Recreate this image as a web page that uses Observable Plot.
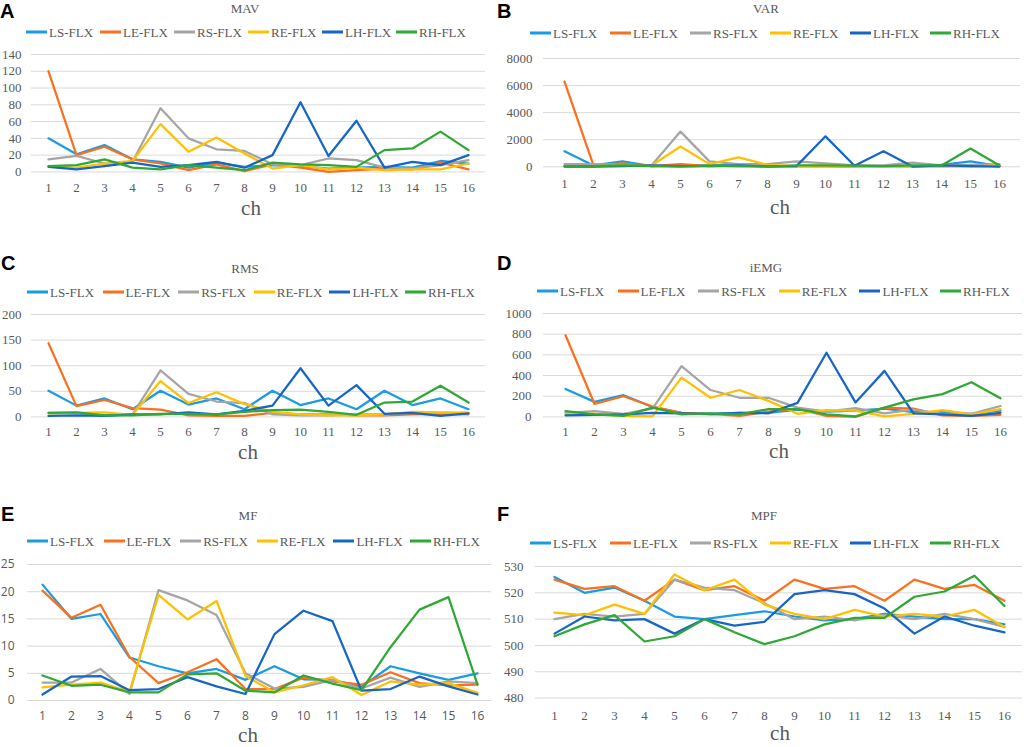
<!DOCTYPE html>
<html><head><meta charset="utf-8">
<script src="https://cdn.jsdelivr.net/npm/d3@7"></script>
<script src="https://cdn.jsdelivr.net/npm/@observablehq/plot@0.6"></script>
<style>
html,body{margin:0;padding:0;background:#fff;}
#root{position:relative;width:1024px;height:747px;overflow:hidden;background:#fff;}
.abs{position:absolute;white-space:nowrap;}
.letter{font-family:"Liberation Sans",Arial,sans-serif;font-weight:bold;font-size:20px;line-height:20px;color:#000;}
.title{font-family:"Liberation Serif","Times New Roman",serif;font-size:13px;color:#595959;transform:translate(-50%,-50%);line-height:1;}
.leg{font-family:"Liberation Serif","Times New Roman",serif;font-size:13px;color:#595959;line-height:1;transform:translateY(-50%);display:flex;align-items:center;}
.leg .sw{display:inline-block;width:21px;height:3px;margin-right:2px;}
.ch{font-family:"Liberation Serif","Times New Roman",serif;font-size:21px;color:#595959;transform:translate(-50%,-50%);line-height:0.72;padding-top:1px;}
</style></head><body><div id="root"></div>
<script>
// ---------- data ----------
const channels = [1,2,3,4,5,6,7,8,9,10,11,12,13,14,15,16];
const seriesNames = ["LS-FLX","LE-FLX","RS-FLX","RE-FLX","LH-FLX","RH-FLX"];
const seriesColors = ["#1b9be0","#f9711f","#a5a5a5","#ffc000","#1766c4","#2fa836"];

// each array: rows in order LS, LE, RS, RE, LH, RH
const MAV = [
  [40,21,32,15,12,5,11,6,8,7,4,5,6,5,13,10],
  [120,20,30,15,10,2,9,1,9,5,0,2,4,3,11,3],
  [15,19,10,12,76,40,27,25,9,8,16,14,5,4,8,14],
  [7,5,10,13,57,24,41,22,4,8,3,5,2,3,3,10],
  [6,3,7,11,6,8,12,5,20,83,19,61,5,12,8,20],
  [7,8,15,5,3,8,5,2,11,9,8,6,26,28,48,26]
];
const VAR = [
  [1150,100,400,50,100,100,100,50,50,50,50,50,50,150,400,50],
  [6300,100,250,50,200,50,50,50,50,50,20,50,50,50,100,50],
  [200,200,150,100,2600,400,200,200,400,250,100,100,300,100,150,200],
  [50,50,100,100,1500,200,700,150,50,100,20,20,20,20,20,100],
  [20,20,50,100,50,50,100,30,50,2250,80,1150,20,100,50,20],
  [50,50,100,50,20,80,50,20,100,100,80,50,100,100,1350,100]
];
const RMS = [
  [51,22,36,15,51,24,36,15,51,23,36,15,51,23,36,15],
  [144,21,33,17,14,3,2,2,8,5,5,3,3,5,6,5],
  [8,8,3,5,91,45,30,27,5,3,3,5,5,8,8,8],
  [7,8,9,4,70,27,48,25,10,5,3,3,5,10,9,8],
  [2,3,2,5,5,9,5,12,22,95,22,62,6,8,2,7],
  [8,9,3,3,6,6,5,10,13,14,10,4,28,30,61,28]
];
const IEMG = [
  [270,145,210,95,40,25,40,40,70,50,60,80,45,45,30,60],
  [790,125,200,100,40,30,10,50,80,10,0,90,80,15,10,20],
  [40,55,30,80,490,260,185,185,90,50,85,35,70,30,30,105],
  [30,30,10,5,380,185,260,155,30,65,60,5,30,65,25,75],
  [15,20,25,40,35,30,40,35,135,620,140,445,35,25,10,40],
  [55,25,10,90,25,35,25,75,75,25,5,90,170,220,335,180]
];
const MF = [
  [21.3,15,15.9,7.9,6.3,5,5.8,3.8,6.3,3.9,3.8,2.5,6.3,5,3.8,5],
  [20.2,15.2,17.6,8,3.2,5.2,7.6,2.1,2.1,4.2,3.5,2.9,5.2,3.2,2.8,2.9],
  [3.3,3.3,5.8,1.2,20.3,18.4,15.7,5,2.2,2.5,3.8,2.2,4.2,2.5,3.5,3.2],
  [2.4,2.9,3.3,1.6,19.4,14.9,18.3,4.5,1.5,2.8,4.3,1.0,3.5,2.9,3.2,1.4],
  [1.1,4.4,4.5,1.9,2.1,4.3,2.6,1.2,12.2,16.5,14.6,1.8,2.1,4.4,2.6,1.1],
  [4.6,2.7,2.9,1.5,1.5,4.8,5,1.8,1.5,4.6,3.1,1.9,9.8,16.7,19,2.9]
];
const MPF = [
  [526,520,522,517,511,510,511.5,513,511,509.5,510,512,511,510,510,508],
  [525,521.5,522.5,517,525,521,522.5,517,525,521.5,522.5,517,525,521.5,523,517],
  [510,512,511,512,525,522,521,516,510,511,509.5,511.5,510,512,510,507],
  [512.5,511.5,515.5,512,527,521,525,515.5,512,510,513.5,511,512,511,513.5,507],
  [504.5,511,509.5,510,504.5,510,507.5,509,519.5,521,519.5,514,504.5,511,507.5,505],
  [503.5,508,511.5,501.5,503.5,510,505,500.5,503.5,508,510.5,510.5,518.5,520.5,526.5,515]
];

const MAV_ticks = [0,20,40,60,80,100,120,140];
const VAR_ticks = [0,2000,4000,6000,8000];
const RMS_ticks = [0,50,100,150,200];
const IEMG_ticks = [0,200,400,600,800,1000];
const MF_ticks = [0,5,10,15,20,25];
const MPF_ticks = [480,490,500,510,520,530];

const panelLetters = ["A","B","C","D","E","F"];
const panelTitles = ["MAV","VAR","RMS","iEMG","MF","MPF"];
const xAxisLabel = "ch";

// ---------- layout ----------
const layout = [
  {data:MAV, ticks:MAV_ticks, letter:[0,1], title:[245,7.5], leg:[26,31.5,74], L:31,R:485,T:54.3,B:171.7, xPad:11, yPad:10, ch:[251,207.5], sans:false},
  {data:VAR, ticks:VAR_ticks, letter:[497,1], title:[766,7.5], leg:[530,33,80], L:543,R:1020,T:58,B:166.3, xPad:11.5, yPad:11, ch:[780,207], sans:false},
  {data:RMS, ticks:RMS_ticks, letter:[1,253], title:[245,267.5], leg:[27,291.7,75.6], L:31,R:485,T:314.3,B:416.7, xPad:10, yPad:10, ch:[248,451.5], sans:false},
  {data:IEMG, ticks:IEMG_ticks, letter:[497,253], title:[766,267], leg:[537,291,80.6], L:543,R:1022,T:313.3,B:416.7, xPad:10, yPad:12, ch:[779,451], sans:false},
  {data:MF, ticks:MF_ticks, letter:[1,504], title:[248,515], leg:[27,540.7,76.6], L:26.5,R:490.5,T:564,B:700, xPad:11, yPad:13, ch:[248,735], sans:true},
  {data:MPF, ticks:MPF_ticks, letter:[497,504], title:[764,515], leg:[530,542.7,80], L:535,R:1022,T:565.7,B:697.3, xPad:13, yPad:12, ch:[780,733], sans:false}
];

const root = document.getElementById("root");
function addDiv(cls, text, x, y){
  const d = document.createElement("div");
  d.className = "abs " + cls;
  d.textContent = text;
  d.style.left = x + "px";
  d.style.top = y + "px";
  root.appendChild(d);
  return d;
}

layout.forEach((p, k) => {
  addDiv("letter", panelLetters[k], p.letter[0], p.letter[1]);
  addDiv("title", panelTitles[k], p.title[0], p.title[1]);

  seriesNames.forEach((name, i) => {
    const d = document.createElement("div");
    d.className = "abs leg";
    d.style.left = (p.leg[0] + i * p.leg[2]) + "px";
    d.style.top = p.leg[1] + "px";
    const sw = document.createElement("span");
    sw.className = "sw";
    sw.style.background = seriesColors[i];
    const t = document.createElement("span");
    t.textContent = name;
    d.appendChild(sw); d.appendChild(t);
    root.appendChild(d);
  });

  const rows = [];
  p.data.forEach((vals, si) => vals.forEach((v, i) => rows.push({ch: channels[i], v, s: seriesNames[si]})));
  const mL = 45, mT = 10, mR = 2, mB = 24;
  const width = p.R - p.L + mL + mR;
  const height = p.B - p.T + mT + mB;
  const svg = Plot.plot({
    width, height,
    marginLeft: mL, marginRight: mR, marginTop: mT, marginBottom: mB,
    style: {
      fontFamily: p.sans ? "'Open Sans','Liberation Sans',sans-serif" : "'Liberation Serif','Times New Roman',serif",
      fontSize: p.sans ? "12px" : "13px",
      color: "#595959",
      background: "transparent",
      overflow: "visible"
    },
    x: {type: "point", domain: channels, padding: 0.5},
    y: {domain: [p.ticks[0], p.ticks[p.ticks.length - 1]]},
    color: {type: "ordinal", domain: seriesNames, range: seriesColors},
    marks: [
      Plot.gridY(p.ticks, {stroke: "#d9d9d9", strokeOpacity: 1, strokeWidth: 1}),
      Plot.axisY(p.ticks, {tickSize: 0, tickPadding: p.yPad, label: null, tickFormat: d => String(d)}),
      Plot.axisX(channels, {tickSize: 0, tickPadding: p.xPad, label: null, tickFormat: d => String(d)}),
      Plot.line(rows, {x: "ch", y: "v", z: "s", stroke: "s", strokeWidth: 2.25})
    ]
  });
  svg.style.position = "absolute";
  svg.style.left = (p.L - mL) + "px";
  svg.style.top = (p.T - mT) + "px";
  root.appendChild(svg);

  addDiv("ch", xAxisLabel, p.ch[0], p.ch[1]);
});
</script></body></html>
